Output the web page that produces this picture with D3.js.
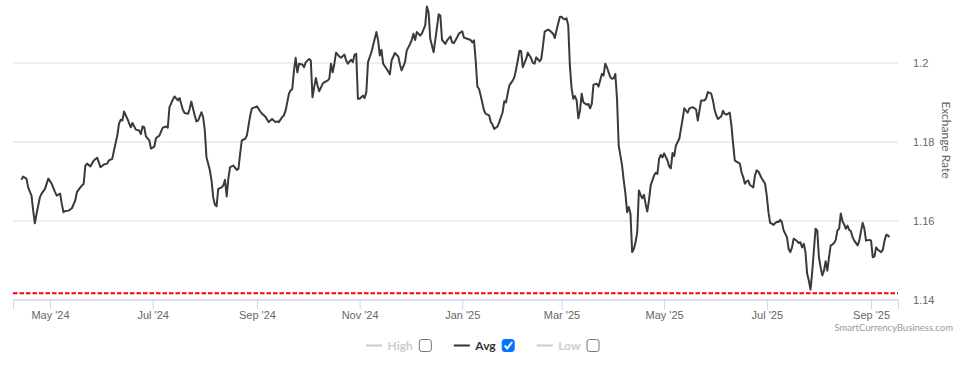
<!DOCTYPE html>
<html>
<head>
<meta charset="utf-8">
<script src="https://cdn.jsdelivr.net/npm/d3@7"></script>
<style>
  html, body { margin: 0; padding: 0; background: #fff; }
  svg { display: block; font-family: Lato, "Open Sans", sans-serif; }
</style>
</head>
<body>
<div id="chart"></div>
<script>
// ── 1. DATA ────────────────────────────────────────────────────
// daily average rate (one line per month)
const dates = [
  "2024-04-14","2024-04-15","2024-04-17","2024-04-18","2024-04-20","2024-04-21","2024-04-22","2024-04-23","2024-04-25","2024-04-26","2024-04-28","2024-04-30",
  "2024-05-02","2024-05-04","2024-05-05","2024-05-07","2024-05-08","2024-05-09","2024-05-10","2024-05-12","2024-05-14","2024-05-16","2024-05-17","2024-05-19","2024-05-21","2024-05-22","2024-05-23","2024-05-25","2024-05-27","2024-05-29","2024-05-31",
  "2024-06-02","2024-06-04","2024-06-05","2024-06-07","2024-06-08","2024-06-10","2024-06-11","2024-06-12","2024-06-13","2024-06-14","2024-06-16","2024-06-18","2024-06-19","2024-06-21","2024-06-23","2024-06-24","2024-06-25","2024-06-26","2024-06-27","2024-06-29","2024-06-30",
  "2024-07-02","2024-07-03","2024-07-05","2024-07-07","2024-07-09","2024-07-10","2024-07-11","2024-07-13","2024-07-14","2024-07-16","2024-07-17","2024-07-19","2024-07-20","2024-07-22","2024-07-23","2024-07-24","2024-07-26","2024-07-27","2024-07-28","2024-07-30","2024-07-31",
  "2024-08-01","2024-08-02","2024-08-04","2024-08-05","2024-08-06","2024-08-07","2024-08-08","2024-08-09","2024-08-11","2024-08-12","2024-08-13","2024-08-14","2024-08-15","2024-08-16","2024-08-18","2024-08-20","2024-08-21","2024-08-22","2024-08-23","2024-08-25","2024-08-26","2024-08-28","2024-08-29","2024-08-31",
  "2024-09-01","2024-09-03","2024-09-04","2024-09-06","2024-09-08","2024-09-09","2024-09-10","2024-09-12","2024-09-13","2024-09-14","2024-09-16","2024-09-17","2024-09-18","2024-09-19","2024-09-20","2024-09-21","2024-09-22","2024-09-23","2024-09-24","2024-09-25","2024-09-26","2024-09-28","2024-09-29","2024-09-30",
  "2024-10-02","2024-10-03","2024-10-04","2024-10-05","2024-10-06","2024-10-07","2024-10-08","2024-10-10","2024-10-11","2024-10-13","2024-10-14","2024-10-15","2024-10-16","2024-10-17","2024-10-18","2024-10-20","2024-10-21","2024-10-23","2024-10-24","2024-10-25","2024-10-27","2024-10-28","2024-10-29","2024-10-30","2024-10-31",
  "2024-11-01","2024-11-03","2024-11-04","2024-11-05","2024-11-06","2024-11-08","2024-11-09","2024-11-10","2024-11-11","2024-11-12","2024-11-13","2024-11-14","2024-11-15","2024-11-17","2024-11-19","2024-11-20","2024-11-22","2024-11-24","2024-11-25","2024-11-26","2024-11-28","2024-11-29",
  "2024-12-01","2024-12-02","2024-12-03","2024-12-04","2024-12-05","2024-12-06","2024-12-07","2024-12-08","2024-12-10","2024-12-11","2024-12-12","2024-12-13","2024-12-15","2024-12-17","2024-12-18","2024-12-19","2024-12-20","2024-12-22","2024-12-23","2024-12-25","2024-12-26","2024-12-27","2024-12-29","2024-12-30",
  "2025-01-01","2025-01-02","2025-01-04","2025-01-06","2025-01-07","2025-01-08","2025-01-09","2025-01-10","2025-01-11","2025-01-12","2025-01-14","2025-01-15","2025-01-17","2025-01-18","2025-01-19","2025-01-20","2025-01-22","2025-01-23","2025-01-25","2025-01-26","2025-01-27","2025-01-28","2025-01-29","2025-01-31",
  "2025-02-01","2025-02-02","2025-02-03","2025-02-04","2025-02-05","2025-02-06","2025-02-08","2025-02-09","2025-02-11","2025-02-12","2025-02-13","2025-02-14","2025-02-16","2025-02-17","2025-02-18","2025-02-19","2025-02-21","2025-02-22","2025-02-24","2025-02-25","2025-02-26","2025-02-28",
  "2025-03-01","2025-03-02","2025-03-03","2025-03-04","2025-03-05","2025-03-06","2025-03-07","2025-03-08","2025-03-09","2025-03-10","2025-03-11","2025-03-12","2025-03-13","2025-03-14","2025-03-16","2025-03-17","2025-03-18","2025-03-19","2025-03-20","2025-03-22","2025-03-23","2025-03-25","2025-03-26","2025-03-27","2025-03-28","2025-03-30","2025-03-31",
  "2025-04-01","2025-04-02","2025-04-03","2025-04-04","2025-04-05","2025-04-06","2025-04-07","2025-04-08","2025-04-09","2025-04-10","2025-04-11","2025-04-12","2025-04-13","2025-04-14","2025-04-15","2025-04-16","2025-04-17","2025-04-18","2025-04-19","2025-04-20","2025-04-21","2025-04-22","2025-04-23","2025-04-25","2025-04-26","2025-04-27","2025-04-28","2025-04-29","2025-04-30",
  "2025-05-01","2025-05-03","2025-05-04","2025-05-05","2025-05-06","2025-05-07","2025-05-08","2025-05-10","2025-05-11","2025-05-12","2025-05-13","2025-05-14","2025-05-15","2025-05-16","2025-05-18","2025-05-20","2025-05-21","2025-05-22","2025-05-23","2025-05-25","2025-05-26","2025-05-27","2025-05-29","2025-05-30","2025-05-31",
  "2025-06-01","2025-06-02","2025-06-04","2025-06-05","2025-06-06","2025-06-07","2025-06-09","2025-06-10","2025-06-11","2025-06-12","2025-06-13","2025-06-15","2025-06-16","2025-06-17","2025-06-18","2025-06-19","2025-06-20","2025-06-21","2025-06-23","2025-06-24","2025-06-25","2025-06-26","2025-06-28","2025-06-30",
  "2025-07-01","2025-07-02","2025-07-03","2025-07-04","2025-07-05","2025-07-07","2025-07-08","2025-07-09","2025-07-10","2025-07-11","2025-07-13","2025-07-14","2025-07-15","2025-07-16","2025-07-17","2025-07-19","2025-07-20","2025-07-21","2025-07-22","2025-07-23","2025-07-24","2025-07-25","2025-07-26","2025-07-27","2025-07-28","2025-07-29","2025-07-30","2025-07-31",
  "2025-08-01","2025-08-02","2025-08-03","2025-08-04","2025-08-05","2025-08-06","2025-08-07","2025-08-08","2025-08-09","2025-08-10","2025-08-11","2025-08-12","2025-08-13","2025-08-14","2025-08-15","2025-08-16","2025-08-17","2025-08-18","2025-08-19","2025-08-20","2025-08-21","2025-08-22","2025-08-24","2025-08-25","2025-08-26","2025-08-27","2025-08-28","2025-08-29","2025-08-31",
  "2025-09-01","2025-09-02","2025-09-03","2025-09-04","2025-09-05","2025-09-07","2025-09-08","2025-09-09","2025-09-10","2025-09-11","2025-09-12"
];

const avgRates = [
  1.1703,1.1711,1.1706,1.1684,1.1663,1.1625,1.1593,1.1617,1.1659,1.1668,1.1680,1.1706,
  1.1693,1.1672,1.1663,1.1668,1.1642,1.1621,1.1624,1.1625,1.1631,1.1651,1.1672,1.1684,1.1693,1.1739,1.1744,1.1737,1.1752,1.1759,1.1735,
  1.1742,1.1744,1.1752,1.1756,1.1777,1.1815,1.1845,1.1855,1.1853,1.1876,1.1857,1.1836,1.1847,1.1830,1.1828,1.1819,1.1838,1.1836,1.1813,1.1803,1.1782,
  1.1787,1.1809,1.1815,1.1835,1.1838,1.1835,1.1887,1.1906,1.1914,1.1904,1.1910,1.1880,1.1872,1.1870,1.1883,1.1901,1.1866,1.1851,1.1853,1.1874,1.1862,
  1.1828,1.1760,1.1727,1.1701,1.1659,1.1640,1.1636,1.1680,1.1684,1.1689,1.1703,1.1661,1.1706,1.1735,1.1739,1.1728,1.1731,1.1769,1.1803,1.1807,1.1815,1.1866,1.1884,1.1887,
  1.1889,1.1876,1.1870,1.1863,1.1849,1.1853,1.1857,1.1849,1.1851,1.1849,1.1862,1.1866,1.1878,1.1899,1.1921,1.1929,1.1933,1.1980,1.2012,1.1975,1.1997,1.1995,1.1988,1.2001,
  1.2009,1.2005,1.1912,1.1937,1.1961,1.1942,1.1927,1.1946,1.1950,1.1954,1.1959,1.1997,1.1975,1.1997,1.2025,1.2015,1.2012,1.2020,1.2005,1.1997,1.2007,1.2001,1.2020,1.2022,1.1908,
  1.1908,1.1916,1.1910,1.1925,1.2001,1.2026,1.2043,1.2060,1.2077,1.2056,1.2018,1.2032,1.1997,1.1984,1.1970,1.2005,1.2024,1.2015,1.1995,1.1980,1.2001,1.2030,
  1.2047,1.2057,1.2073,1.2057,1.2077,1.2073,1.2068,1.2073,1.2094,1.2142,1.2127,1.2060,1.2026,1.2089,1.2122,1.2119,1.2057,1.2047,1.2056,1.2066,1.2051,1.2049,1.2064,1.2073,
  1.2079,1.2063,1.2060,1.2057,1.2051,1.2056,1.2005,1.1939,1.1933,1.1916,1.1878,1.1870,1.1866,1.1849,1.1843,1.1832,1.1838,1.1849,1.1874,1.1902,1.1899,1.1921,1.1942,1.1954,
  1.1963,1.1982,1.2005,1.2030,1.2029,1.1988,1.2009,1.2025,1.2010,1.1999,1.1997,1.2013,1.2003,1.2009,1.2043,1.2078,1.2083,1.2081,1.2073,1.2062,1.2081,1.2115,
  1.2116,1.2111,1.2109,1.2112,1.2094,1.1990,1.1935,1.1908,1.1915,1.1904,1.1859,1.1878,1.1921,1.1899,1.1893,1.1895,1.1884,1.1895,1.1944,1.1946,1.1939,1.1971,1.1967,1.1997,1.1988,1.1963,1.1959,
  1.1960,1.1971,1.1908,1.1790,1.1765,1.1739,1.1701,1.1668,1.1621,1.1634,1.1617,1.1520,1.1528,1.1545,1.1570,1.1676,1.1665,1.1656,1.1665,1.1642,1.1623,1.1651,1.1689,1.1714,1.1721,1.1718,1.1756,1.1766,1.1760,
  1.1770,1.1752,1.1737,1.1732,1.1771,1.1763,1.1790,1.1807,1.1832,1.1857,1.1884,1.1878,1.1873,1.1884,1.1887,1.1881,1.1853,1.1878,1.1904,1.1904,1.1910,1.1925,1.1921,1.1904,1.1881,
  1.1866,1.1857,1.1864,1.1878,1.1870,1.1868,1.1873,1.1841,1.1794,1.1752,1.1749,1.1744,1.1722,1.1710,1.1693,1.1699,1.1701,1.1690,1.1684,1.1714,1.1727,1.1724,1.1707,1.1693,
  1.1663,1.1621,1.1594,1.1592,1.1589,1.1597,1.1596,1.1602,1.1596,1.1575,1.1558,1.1528,1.1520,1.1532,1.1554,1.1548,1.1543,1.1545,1.1532,1.1541,1.1520,1.1465,1.1448,1.1425,1.1469,1.1524,1.1579,1.1575,
  1.1507,1.1482,1.1461,1.1473,1.1497,1.1473,1.1507,1.1537,1.1539,1.1543,1.1551,1.1575,1.1579,1.1618,1.1598,1.1590,1.1579,1.1587,1.1576,1.1573,1.1558,1.1549,1.1537,1.1549,1.1573,1.1594,1.1579,1.1549,1.1551,
  1.1549,1.1507,1.1509,1.1532,1.1526,1.1520,1.1526,1.1549,1.1564,1.1562,1.1558
];

const lowestRate = 1.1416;                 // red dashed marker
const yTicks = [1.14, 1.16, 1.18, 1.2];
const xTicks = ["2024-05-01","2024-07-01","2024-09-01","2024-11-01","2025-01-01","2025-03-01","2025-05-01","2025-07-01","2025-09-01"];
const xDomain = ["2024-04-09", "2025-09-17"];
const yDomain = [1.14, 1.2];
const legendNames = ["High", "Avg", "Low"];
const legendOn = [false, true, false];
const yTitle = "Exchange Rate";
const credit = "SmartCurrencyBusiness.com";

// ── 2. DIMENSIONS ──────────────────────────────────────────────
const W = 970, H = 373;
const plot = { left: 13, right: 898, bottom: 299.5, ref: 62.5 };

const svg = d3.select("#chart")
  .append("svg")
    .attr("width", W)
    .attr("height", H);

// ── 3. SCALES ──────────────────────────────────────────────────
const parse = d3.timeParse("%Y-%m-%d");
const x = d3.scaleTime()
  .domain(xDomain.map(parse))
  .range([plot.left, plot.right]);
const y = d3.scaleLinear()
  .domain(yDomain)
  .range([plot.bottom, plot.ref]);

const data = dates.map((d, i) => ({ date: parse(d), rate: avgRates[i] }));

// ── 4. GRID + Y LABELS ─────────────────────────────────────────
const yAxis = svg.append("g")
  .attr("transform", `translate(${plot.left},0)`)
  .call(d3.axisRight(y)
    .tickValues(yTicks)
    .tickSize(plot.right - plot.left)
    .tickPadding(15)
    .tickFormat(d => String(d)));
yAxis.select(".domain").remove();
yAxis.selectAll(".tick line").attr("stroke", "#dcdcdc");
yAxis.selectAll(".tick text")
  .attr("fill", "#666")
  .attr("font-size", "11px");

// axis title on the right, rotated
svg.append("text")
  .attr("transform", "translate(942,140) rotate(90)")
  .attr("text-anchor", "middle")
  .attr("fill", "#666")
  .attr("font-size", "12px")
  .text(yTitle);

// ── 5. X AXIS ──────────────────────────────────────────────────
const xAxis = svg.append("g")
  .attr("transform", `translate(0,${plot.bottom})`)
  .call(d3.axisBottom(x)
    .tickValues(xTicks.map(parse))
    .tickSize(10)
    .tickPadding(2)
    .tickFormat(d3.timeFormat("%b '%y")));
xAxis.select(".domain").attr("stroke", "#ccd6eb");
xAxis.selectAll(".tick line").attr("stroke", "#ccd6eb");
xAxis.selectAll(".tick text")
  .attr("fill", "#666")
  .attr("font-size", "11px");

// ── 6. LINES ───────────────────────────────────────────────────
svg.append("line")
  .attr("x1", plot.left).attr("x2", plot.right)
  .attr("y1", y(lowestRate)).attr("y2", y(lowestRate))
  .attr("stroke", "#ff0000")
  .attr("stroke-width", 2)
  .attr("stroke-dasharray", "4.5,2");

const line = d3.line()
  .x(d => x(d.date))
  .y(d => y(d.rate));

svg.append("path")
  .datum(data)
  .attr("fill", "none")
  .attr("stroke", "#3a3a3c")
  .attr("stroke-width", 2)
  .attr("stroke-linejoin", "round")
  .attr("d", line);

// ── 7. CREDIT ──────────────────────────────────────────────────
svg.append("text")
  .attr("x", 953)
  .attr("y", 331)
  .attr("text-anchor", "end")
  .attr("fill", "#999")
  .attr("font-size", "9.5px")
  .text(credit);

// ── 8. LEGEND ──────────────────────────────────────────────────
const legend = svg.append("g");
let cursor = 0;
legendNames.forEach((name, i) => {
  const g = legend.append("g").attr("transform", `translate(${cursor},0)`);
  const col = legendOn[i] ? "#333" : "#ccc";
  g.append("line")
    .attr("x1", 0).attr("x2", 16)
    .attr("y1", 345.5).attr("y2", 345.5)
    .attr("stroke", col)
    .attr("stroke-width", 2);
  const t = g.append("text")
    .attr("x", 21.5)
    .attr("y", 350)
    .attr("fill", col)
    .attr("font-size", "12px")
    .attr("font-weight", "bold")
    .text(name);
  const bx = 21.5 + t.node().getComputedTextLength() + 6;
  g.append("rect")
    .attr("x", bx + 0.5).attr("y", 339.5)
    .attr("width", 12).attr("height", 12)
    .attr("rx", 2.5)
    .attr("fill", legendOn[i] ? "#0075ff" : "#fff")
    .attr("stroke", legendOn[i] ? "#0075ff" : "#767676");
  if (legendOn[i]) {
    g.append("path")
      .attr("d", `M${bx + 3},${345.5} L${bx + 5.5},${348.5} L${bx + 10.5},${342}`)
      .attr("fill", "none")
      .attr("stroke", "#fff")
      .attr("stroke-width", 2);
  }
  cursor += bx + 13 + 22;   // next item starts after this box + gap
});
const lw = cursor - 22;
legend.attr("transform", `translate(${Math.round(482.5 - lw / 2)},0)`);
</script>
</body>
</html>
